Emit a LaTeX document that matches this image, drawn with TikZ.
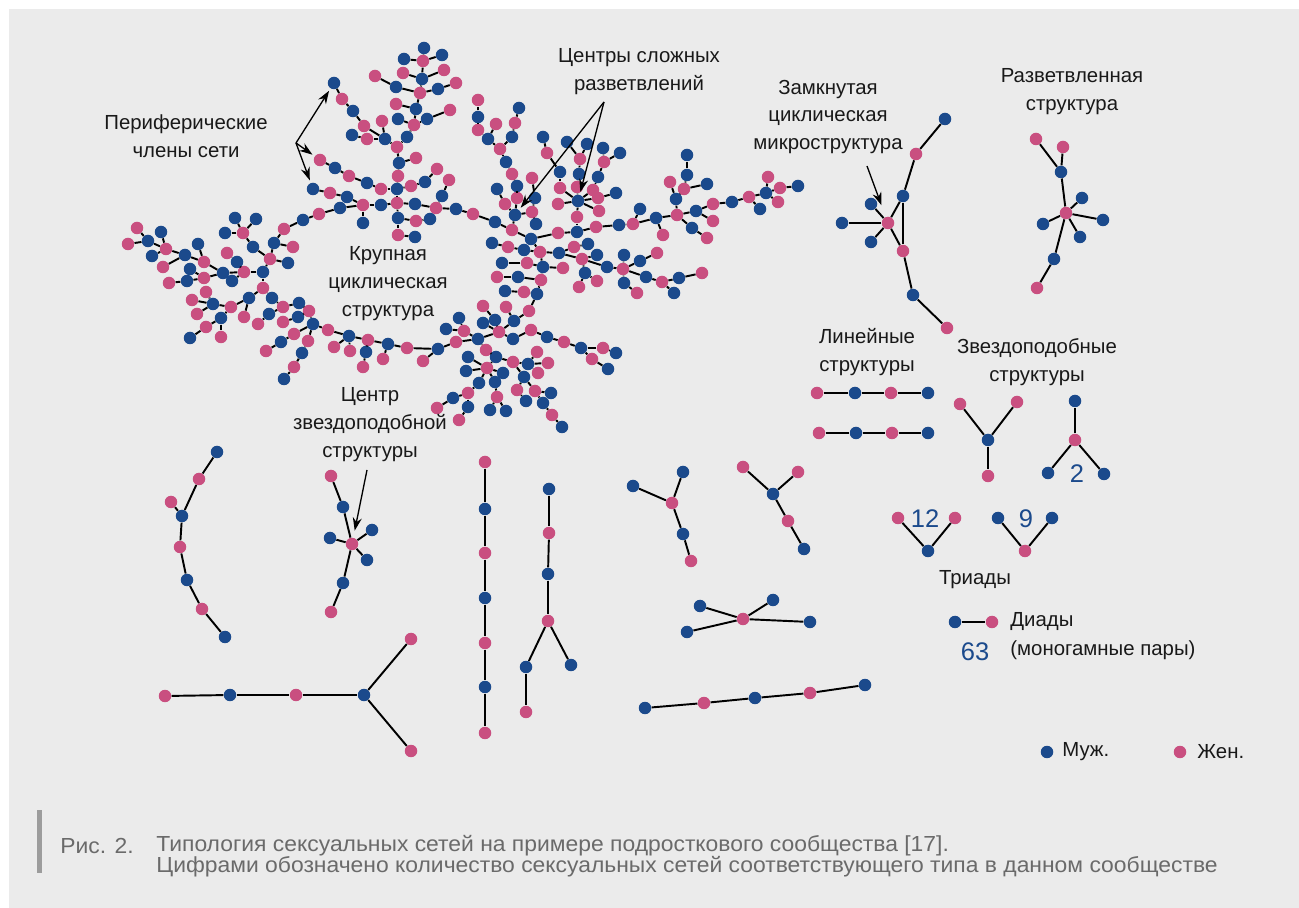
\documentclass[tikz,border=0pt]{standalone}
\usepackage{fontspec}
\setmainfont{Liberation Sans}
\newfontfamily\capfont[FakeStretch=1.05]{Liberation Sans}
\usetikzlibrary{arrows.meta}
\definecolor{mb}{HTML}{1B4A8C}
\definecolor{wp}{HTML}{C94F80}
\definecolor{panel}{HTML}{EBEBEB}
\definecolor{captxt}{HTML}{6A6A6A}
\definecolor{capbar}{HTML}{9C9C9C}
\tikzset{
  dot/.style={circle,inner sep=0pt,minimum size=0.25cm},
  link/.style={line width=1.1pt},
  pointer/.style={line width=0.75pt,-{Stealth[length=2.6mm,width=1.8mm]},shorten >=1.5pt},
  lbl/.style={align=center,font=\fontsize{11.6}{15.9}\selectfont,text=black!90,inner sep=0pt},
  count/.style={font=\fontsize{14.5}{16}\selectfont,text=mb,inner sep=0pt},
  captext/.style={font=\capfont\fontsize{12.4}{14}\selectfont,text=captxt,inner sep=0pt,anchor=west},
}
\begin{document}
\begin{tikzpicture}[x=0.02cm,y=-0.02cm]
\useasboundingbox (0,0) rectangle (1299,908);
\fill[panel] (9,9) rectangle (1299,908);

% large network: nodes
\foreach \n/\x/\y/\c in {
  t1/424/48/mb, t2/423/61/wp, t3/404/59/mb, t4/442/55/mb, t5/422/79/mb, t6/403/73/wp,
  t7/444/70/wp, t8/420/93/wp, t9/396/87/mb, t10/375/76/wp, t11/438/89/mb, t12/456/83/wp,
  t13/416/109/mb, t14/396/104/wp, t15/414/125/wp, t16/398/119/mb, t17/427/119/mb,
  t18/450/110/wp, t19/407/137/mb, t20/397/147/wp, t21/399/163/mb, t22/416/158/wp,
  t23/398/176/wp, t24/397/189/mb, t25/411/186/wp, t26/425/182/mb, t27/437/169/wp,
  t28/442/196/mb, t29/449/180/wp, t30/397/203/wp, t31/415/204/mb, t32/381/205/mb,
  t33/398/218/mb, t34/416/221/wp, t35/430/219/mb, t36/436/208/wp, t37/456/209/mb,
  t38/473/214/wp, t39/334/83/mb, t40/342/99/wp, t41/353/111/mb, t42/364/126/wp,
  t43/385/139/mb, t44/382/121/wp, t45/367/139/wp, t46/352/135/mb, t47/320/160/wp,
  t48/335/168/mb, t49/349/176/wp, t50/367/183/mb, t51/381/189/wp, t52/313/189/mb,
  t53/330/193/wp, t54/347/197/mb, t55/363/205/wp, t56/340/208/mb, t57/319/214/wp,
  t58/303/220/mb, t59/363/223/mb, t60/398/235/wp, t61/415/237/mb,
  l1/284/229/wp, l2/274/243/mb, l3/293/247/wp, l4/270/259/wp, l5/288/263/mb,
  l6/253/247/mb, l7/243/233/wp, l8/235/218/mb, l9/256/219/mb, l10/225/233/mb,
  l11/263/272/mb, l12/244/272/wp, l13/237/262/mb, l14/227/253/wp, l15/232/281/mb,
  l16/223/273/mb, l17/204/262/wp, l18/185/255/mb, l19/198/244/mb, l20/204/278/wp,
  l21/187/281/mb, l22/169/283/wp, l23/190/269/mb, l24/166/249/wp, l25/148/241/mb,
  l26/137/228/wp, l27/128/244/wp, l28/161/232/mb, l29/152/256/mb, l30/163/267/wp,
  l31/263/288/wp, l32/272/298/mb, l33/283/307/wp, l34/299/303/mb, l35/309/311/wp,
  l36/313/324/mb, l37/249/298/mb, l38/231/307/wp, l39/213/304/mb, l40/206/292/wp,
  l41/192/300/wp, l42/197/314/wp, l43/221/318/mb, l44/206/327/wp, l45/190/338/mb,
  l46/221/337/wp, l47/244/317/wp, l48/269/314/mb, l49/258/324/wp, l50/298/317/mb,
  l51/283/322/wp, l52/294/334/wp, l53/281/342/mb, l54/266/351/wp, l55/308/341/wp,
  l56/302/353/mb, l57/294/367/wp, l58/284/379/mb,
  k1/328/330/wp, k2/349/336/mb, k3/368/340/wp, k4/388/344/mb, k5/407/348/wp,
  k6/438/349/mb, k7/456/342/wp, k8/478/339/mb, k9/334/347/wp, k10/350/351/wp,
  k11/366/352/mb, k12/363/367/wp, k13/383/359/wp, k14/423/361/wp,
  r1/499/332/wp, r2/514/321/mb, r3/529/311/wp, r4/537/294/mb, r5/541/280/wp,
  r6/543/267/mb, r7/540/252/wp, r8/531/239/mb, r9/512/230/wp, r10/495/222/mb,
  r11/495/320/mb, r12/483/306/wp, r13/506/307/wp, r14/483/323/mb, r15/513/339/mb,
  r16/464/331/wp, r17/459/318/mb, r18/446/329/mb, r19/486/350/wp, r20/496/357/mb,
  r21/513/362/wp, r22/528/364/mb, r23/537/352/wp, r24/548/363/wp, r25/538/373/wp,
  r26/524/377/mb, r27/517/390/wp, r28/535/391/wp, r29/551/393/mb, r30/526/401/mb,
  r31/543/403/mb, r32/552/415/wp, r33/562/427/mb, r34/487/368/wp, r35/468/357/mb,
  r36/466/371/mb, r37/503/373/mb, r38/479/383/mb, r39/495/382/mb, r40/468/393/wp,
  r41/497/397/wp, r42/453/398/mb, r43/468/407/mb, r44/437/408/wp, r45/490/410/mb,
  r46/506/411/mb, r47/459/420/wp, r48/531/330/wp, r49/547/337/mb, r50/564/342/wp,
  r51/581/348/mb, r52/603/348/wp, r53/616/353/mb, r54/592/359/wp, r55/608/369/mb,
  r56/524/292/wp, r57/505/291/mb, r58/518/277/mb, r59/497/277/wp, r60/527/263/wp,
  r61/502/263/mb, r62/563/268/wp, r63/524/250/mb, r64/508/247/wp, r65/492/243/mb,
  h1/515/215/mb, h2/505/204/wp, h3/497/189/mb, h4/517/198/wp, h5/517/186/mb,
  h6/512/174/wp, h7/506/162/mb, h8/500/149/wp, h9/488/139/mb, h10/478/130/wp,
  h11/478/117/mb, h12/478/100/wp, h13/512/137/mb, h14/515/123/wp, h15/519/108/mb,
  h16/496/124/wp, h17/532/212/wp, h18/536/224/mb, h19/535/198/mb, h20/532/178/wp,
  s1/578/201/mb, s2/558/204/wp, s3/560/188/wp, s4/577/187/wp, s5/593/190/wp,
  s6/598/198/wp, s7/599/211/wp, s8/577/217/wp, s9/560/172/mb, s10/547/153/wp,
  s11/543/137/mb, s12/579/174/mb, s13/580/159/wp, s14/567/142/mb, s15/587/144/mb,
  s16/598/177/mb, s17/604/162/wp, s18/603/148/mb, s19/620/153/mb, s20/616/193/mb,
  s21/558/233/wp, s22/577/232/mb, s23/596/227/wp, s24/619/225/mb, s25/633/224/wp,
  s26/656/218/mb, s27/677/215/wp, s28/696/211/mb, s29/713/204/wp, s30/732/202/mb,
  s31/749/197/wp, s32/766/193/mb, s33/768/177/wp, s34/780/188/wp, s35/798/186/mb,
  s36/778/202/wp, s37/760/209/mb, s38/676/199/mb, s39/670/182/wp, s40/684/189/wp,
  s41/687/175/mb, s42/687/155/mb, s43/707/184/mb, s44/713/221/wp, s45/692/228/mb,
  s46/707/238/wp, s47/640/209/mb, s48/663/235/wp,
  d1/559/253/mb, d2/574/247/wp, d3/588/244/mb, d4/582/259/wp, d5/607/267/mb,
  d6/623/269/wp, d7/624/255/mb, d8/640/261/mb, d9/657/253/wp, d10/646/277/mb,
  d11/662/282/wp, d12/679/278/mb, d13/702/273/wp, d14/674/293/mb, d15/624/283/mb,
  d16/637/293/wp, d17/585/273/mb, d18/579/287/wp, d19/597/281/wp, d20/597/255/mb}
  \node[dot,fill=\c] (\n) at (\x,\y) {};

% large network: links
\foreach \a/\b in {
  t1/t2, t3/t2, t4/t2, t2/t5, t5/t6, t5/t7, t5/t8, t8/t9, t9/t10, t8/t11, t11/t12,
  t8/t13, t13/t14, t13/t15, t15/t16, t15/t17, t17/t18, t15/t19, t19/t20, t20/t21,
  t21/t22, t21/t23, t23/t24, t24/t25, t25/t26, t26/t27, t24/t30, t30/t31, t31/t36,
  t36/t28, t28/t29, t36/t37, t37/t38, t30/t32, t30/t33, t33/t34, t34/t35, t33/t60,
  t60/t61, t39/t40, t40/t41, t41/t42, t42/t43, t43/t44, t43/t45, t45/t46, t43/t20,
  t47/t48, t48/t49, t49/t50, t50/t51, t51/t24, t52/t53, t53/t54, t54/t55, t55/t32,
  t55/t56, t56/t57, t57/t58, t55/t59,
  t58/l1, l1/l2, l2/l3, l2/l4, l4/l5, l4/l6, l6/l7, l7/l8, l7/l9, l7/l10, l4/l11,
  l11/l12, l12/l13, l13/l14, l12/l15, l12/l16, l16/l17, l17/l18, l17/l19, l16/l20,
  l20/l21, l21/l22, l20/l23, l18/l24, l24/l25, l25/l26, l25/l27, l24/l28, l24/l29,
  l18/l30, l11/l31, l31/l32, l32/l33, l33/l34, l34/l35, l35/l36, l31/l37, l37/l38,
  l38/l39, l39/l40, l39/l41, l39/l42, l38/l43, l43/l44, l44/l45, l43/l46, l37/l47,
  l33/l48, l48/l49, l35/l50, l50/l51, l36/l52, l52/l53, l53/l54, l36/l55, l55/l56,
  l56/l57, l57/l58,
  l36/k1, k1/k2, k2/k3, k3/k4, k4/k5, k5/k6, k6/k7, k7/k8, k2/k9, k2/k10, k3/k11,
  k11/k12, k4/k13, k6/k14,
  k8/r1, r1/r2, r2/r3, r3/r4, r4/r5, r5/r6, r6/r7, r7/r8, r8/r9, r9/r10, r10/t38,
  r9/h1, r1/r11, r11/r12, r2/r13, r1/r14, r1/r15, r15/r48, r48/r49, r49/r50,
  r50/r51, r51/r52, r52/r53, r51/r54, r54/r55, k8/r16, r16/r17, r16/r18, k8/r19,
  r19/r20, r20/r21, r21/r22, r22/r23, r22/r24, r22/r25, r21/r26, r26/r27, r27/r30,
  r26/r28, r28/r29, r28/r31, r31/r32, r32/r33, r20/r34, r34/r35, r34/r36, r34/r37,
  r34/r38, r34/r39, r38/r40, r40/r42, r42/r44, r40/r43, r43/r47, r39/r41, r41/r45,
  r41/r46, r4/r56, r56/r57, r5/r58, r58/r59, r6/r60, r60/r61, r6/r62, r7/r63,
  r63/r64, r64/r65,
  h1/h2, h2/h3, h1/h4, h4/h5, h5/h6, h6/h7, h7/h8, h8/h9, h9/h10, h10/h11, h11/h12,
  h8/h13, h13/h14, h14/h15, h9/h16, h1/h17, h17/h18, h17/h19, h19/h20,
  s1/s2, s1/s3, s1/s4, s1/s5, s1/s6, s1/s7, s1/s8, s3/s9, s9/s10, s10/s11, s4/s12,
  s12/s13, s13/s14, s13/s15, s5/s16, s16/s17, s17/s18, s17/s19, s6/s20, r8/s21,
  s21/s22, s8/s22, s22/s23, s23/s24, s24/s25, s25/s26, s26/s27, s27/s28, s28/s29,
  s29/s30, s30/s31, s31/s32, s32/s33, s32/s34, s34/s35, s32/s36, s31/s37, s27/s38,
  s38/s39, s38/s40, s40/s41, s41/s42, s40/s43, s28/s44, s27/s45, s45/s46, s25/s47,
  s26/s48,
  r7/d1, d1/d2, d2/d3, d1/d4, d4/d5, d4/d20, d5/d6, d6/d7, d6/d8, d8/d9, d6/d10,
  d10/d11, d11/d12, d12/d13, d11/d14, d6/d15, d15/d16, d4/d17, d17/d18, d17/d19}
  \draw[link] (\a) -- (\b);

% small networks: nodes
\foreach \n/\x/\y/\c in {
  q1/945/119/mb, q2/916/154/wp, q3/903/196/mb, q4/871/204/mb, q5/888/223/wp,
  q6/842/223/mb, q7/871/242/mb, q8/903/251/wp, q9/913/295/mb, q10/947/328/wp,
  v1/1036/139/wp, v2/1063/147/wp, v3/1061/172/mb, v4/1066/213/wp, v5/1082/198/mb,
  v6/1043/224/mb, v7/1103/220/mb, v8/1080/237/mb, v9/1054/259/mb, v10/1037/288/wp,
  la1/817/393/wp, la2/855/393/mb, la3/891/393/wp, la4/928/393/mb,
  lb1/819/433/wp, lb2/856/433/mb, lb3/892/433/wp, lb4/928/433/mb,
  x1/960/404/wp, x2/1017/402/wp, x3/988/440/mb, x4/988/476/wp,
  y1/1075/401/mb, y2/1075/440/wp, y3/1048/473/mb, y4/1104/474/mb,
  u1/898/518/wp, u2/928/551/mb, u3/955/518/wp, u4/998/518/mb, u5/1025/551/wp, u6/1052/518/mb,
  w1/955/622/mb, w2/992/622/wp,
  e1/217/452/mb, e2/199/479/wp, e3/171/502/wp, e4/182/516/mb, e5/180/547/wp,
  e6/187/580/mb, e7/202/609/wp, e8/225/637/mb,
  f1/331/476/wp, f2/343/507/mb, f3/352/544/wp, f4/330/538/mb, f5/372/530/mb,
  f6/367/560/mb, f7/343/583/mb, f8/331/612/wp,
  g1/165/696/wp, g2/230/695/mb, g3/296/695/wp, g4/364/695/mb, g5/411/639/wp, g6/411/751/wp,
  j1/485/462/wp, j2/485/509/mb, j3/485/553/wp, j4/485/598/mb, j5/485/643/wp,
  j6/485/687/mb, j7/485/733/wp,
  i1/549/489/mb, i2/549/533/wp, i3/548/574/mb, i4/548/621/wp, i5/526/667/mb,
  i6/571/665/mb, i7/526/712/wp,
  n1/633/486/mb, n2/683/472/mb, n3/672/503/wp, n4/683/534/mb, n5/691/561/wp,
  o1/743/467/wp, o2/798/472/wp, o3/773/494/mb, o4/788/521/wp, o5/804/549/mb,
  p1/700/606/mb, p2/773/600/mb, p3/743/619/wp, p4/810/622/mb, p5/687/632/mb,
  z1/645/708/mb, z2/704/703/wp, z3/755/698/mb, z4/810/693/wp, z5/865/685/mb,
  lm/1047/752/mb, lw/1180/752/wp}
  \node[dot,fill=\c] (\n) at (\x,\y) {};

% small networks: links
\foreach \a/\b in {
  q1/q2, q2/q3, q3/q5, q3/q8, q5/q8, q5/q4, q5/q6, q5/q7, q8/q9, q9/q10,
  v1/v3, v2/v3, v3/v4, v4/v5, v4/v6, v4/v7, v4/v8, v4/v9, v9/v10,
  la1/la2, la2/la3, la3/la4, lb1/lb2, lb2/lb3, lb3/lb4,
  x3/x1, x3/x2, x3/x4, y2/y1, y2/y3, y2/y4,
  u1/u2, u2/u3, u4/u5, u5/u6, w1/w2,
  e1/e2, e2/e4, e3/e4, e4/e5, e5/e6, e6/e7, e7/e8,
  f1/f2, f2/f3, f3/f4, f3/f5, f3/f6, f3/f7, f7/f8,
  g1/g2, g2/g3, g3/g4, g4/g5, g4/g6,
  j1/j2, j2/j3, j3/j4, j4/j5, j5/j6, j6/j7,
  i1/i2, i2/i3, i3/i4, i4/i5, i5/i7, i4/i6,
  n1/n3, n2/n3, n3/n4, n4/n5,
  o1/o3, o2/o3, o3/o4, o4/o5,
  p3/p1, p3/p2, p3/p4, p3/p5,
  z1/z2, z2/z3, z3/z4, z4/z5}
  \draw[link] (\a) -- (\b);

% labels
\node[lbl] (periph) at (186,136) {Периферические\\члены сети};
\node[lbl] (centers) at (639,72) {Центры сложных\\разветвлений};
\node[lbl] (closed) at (828,117) {Замкнутая\\циклическая\\микроструктура};
\node[lbl] (branched) at (1072,92) {Разветвленная\\структура};
\node[lbl] (bigcycle) at (388,284) {Крупная\\циклическая\\структура};
\node[lbl] (starcenter) at (370,425) {Центр\\звездоподобной\\структуры};
\node[lbl] (linear) at (867,352) {Линейные\\структуры};
\node[lbl] (starlike) at (1037,362) {Звездоподобные\\структуры};
\node[lbl] (triads) at (975,580) {Триады};
\node[lbl,anchor=west] (dyads) at (1010,622) {Диады};
\node[lbl,anchor=west] (mono) at (1010,650) {(моногамные пары)};
\node[count] (n2) at (1077,474) {2};
\node[count] (n12) at (925,519) {12};
\node[count] (n9) at (1026,519) {9};
\node[count] (n63) at (975,652) {63};
\node[lbl,anchor=west] (male) at (1062,752) {Муж.};
\node[lbl,anchor=west] (female) at (1197,752) {Жен.};

% arrows
\coordinate (periphtip) at (296,143);
\draw[pointer] (periphtip) -- (t39);
\draw[pointer] (periphtip) -- (t47);
\draw[pointer] (periphtip) -- (t52);
\coordinate (centerstip) at (604,102);
\draw[pointer] (centerstip) -- (h1);
\draw[pointer] (centerstip) -- (s1);
\coordinate (closedtip) at (867,166);
\draw[pointer,shorten >=7pt] (closedtip) -- (q5);
\coordinate (startip) at (367,470);
\draw[pointer,shorten >=4pt] (startip) -- (f3);

% caption
\fill[capbar] (37,810) rectangle (42,873);
\node[captext] (capnum) at (60,846) {Рис. 2.};
\node[captext] (capline1) at (156,846) {Типология сексуальных сетей на примере подросткового сообщества [17].};
\node[captext] (capline2) at (156,867) {Цифрами обозначено количество сексуальных сетей соответствующего типа в данном сообществе};
\end{tikzpicture}
\end{document}
